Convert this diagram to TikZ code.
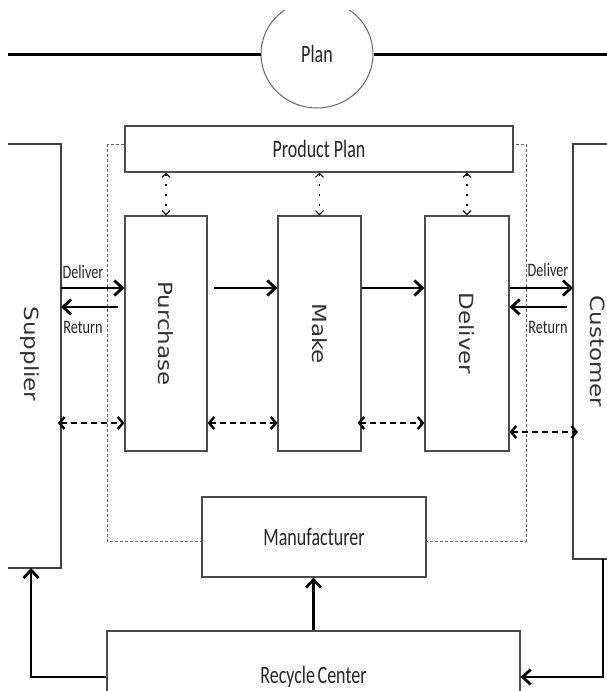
\documentclass[tikz,border=0pt]{standalone}
\usepackage{fontspec}
\setmainfont{Carlito}
\newfontfamily\vfont{DejaVu Sans}
\usetikzlibrary{arrows.meta,shapes.geometric}
\tikzset{
  box/.style={draw=black!70, line width=1.2pt, fill=white, inner sep=0pt},
  ghost/.style={inner sep=0pt, outer sep=0pt},
  lbl/.style={font=\fontsize{25}{29}\selectfont, text=black!85},
  vlbl/.style={font=\vfont\fontsize{23}{27}\selectfont, text=black!80, rotate=-90},
  smalllbl/.style={font=\fontsize{19}{22}\selectfont, text=black!85},
  side/.style={draw=black!75, line width=1.2pt},
  flow/.style={line width=2.8pt, -{Straight Barb[length=8pt,width=15pt]}},
  dflow/.style={line width=2.4pt, dash pattern=on 6pt off 4pt,
    {Straight Barb[length=5pt,width=12pt]}-{Straight Barb[length=5pt,width=12pt]}},
  pflow/.style={line width=1.1pt, dash pattern=on 2pt off 8pt,
    {Straight Barb[length=4pt,width=8pt]}-{Straight Barb[length=4pt,width=8pt]}},
  boundary/.style={draw=black!60, line width=0.8pt, dash pattern=on 3pt off 2pt},
}
\begin{document}
\begin{tikzpicture}[x=1pt,y=-1pt]
\clip (0,0) rectangle (607,691);
\fill[white] (0,0) rectangle (607,691);
% rows
\coordinate (rowA) at (0,288);
\coordinate (rowB) at (0,307);
\coordinate (rowC) at (0,423);
\coordinate (rowD) at (0,432);
% dashed boundary of manufacturer
\draw[boundary] (107,144) rectangle (526,541);
% plan
\begin{scope}
\clip (0,10) rectangle (607,691);
\node[draw=black!60, line width=1pt, ellipse, fill=white, minimum width=112pt, minimum height=108pt, inner sep=0pt] (plan) at (317,54) {};
\end{scope}
\node[lbl] at (plan) {\scalebox{0.72}[1]{Plan}};
\draw[line width=3pt] (8,54) -- (plan.west);
\draw[line width=3pt] (plan.east) -- (607,54);
% product plan
\node[box, minimum width=388pt, minimum height=46pt] (pp) at (319,149) {};
\node[lbl] at (pp) {\scalebox{0.72}[1]{Product Plan}};
% process boxes
\node[box, minimum width=82pt, minimum height=235pt] (pur) at (166,333.5) {};
\node[vlbl] at (pur) {\scalebox{1}[0.85]{Purchase}};
\node[box, minimum width=83pt, minimum height=235pt] (mak) at (319.5,333.5) {};
\node[vlbl] at (mak) {\scalebox{1}[0.85]{Make}};
\node[box, minimum width=84pt, minimum height=235pt] (del) at (467,333.5) {};
\node[vlbl] at (del) {\scalebox{1}[0.85]{Deliver}};
% supplier / customer
\node[ghost, minimum width=53pt, minimum height=424pt] (sup) at (34.5,356) {};
\draw[side] (sup.north west) -- (sup.north east) -- (sup.south east) -- (sup.south west);
\node[vlbl] at (30,354) {\scalebox{1}[0.85]{Supplier}};
\node[ghost, minimum width=50pt, minimum height=415pt] (cus) at (598,351.5) {};
\draw[side] (cus.north east) -- (cus.north west) -- (cus.south west) -- (cus.south east);
\node[vlbl] at (cus) {\scalebox{1}[0.85]{Customer}};
% manufacturer
\node[box, minimum width=224pt, minimum height=80pt] (man) at (314,537) {};
\node[lbl] at (man) {\scalebox{0.72}[1]{Manufacturer}};
% recycle center
\node[box, minimum width=413pt, minimum height=92pt] (rec) at (313.5,677) {};
\node[lbl] at (rec) {\scalebox{0.72}[1]{Recycle\kern-2pt\ Center}};
% product plan links
\draw[pflow] (pp.south -| pur) -- (pur.north);
\draw[pflow] (pp.south -| mak) -- (mak.north);
\draw[pflow] (pp.south -| del) -- (del.north);
% material flow
\draw[flow] (sup.east |- rowA) -- (pur.west |- rowA);
\draw[flow] ([xshift=-6pt]pur.west |- rowB) -- (sup.east |- rowB);
\draw[flow] ([xshift=6pt]pur.east |- rowA) -- (mak.west |- rowA);
\draw[flow] (mak.east |- rowA) -- (del.west |- rowA);
\draw[flow] (del.east |- rowA) -- (cus.west |- rowA);
\draw[flow] ([xshift=-6pt]cus.west |- rowB) -- (del.east |- rowB);
\node[smalllbl] (dl1) at (83,272) {\scalebox{0.75}[1]{Deliver}};
\node[smalllbl] (rt1) at (83,327) {\scalebox{0.75}[1]{Return}};
\node[smalllbl] (dl2) at (548,270) {\scalebox{0.75}[1]{Deliver}};
\node[smalllbl] (rt2) at (548,327) {\scalebox{0.75}[1]{Return}};
% information flow
\draw[dflow] ([xshift=-3pt]sup.east |- rowC) -- (pur.west |- rowC);
\draw[dflow] (pur.east |- rowC) -- (mak.west |- rowC);
\draw[dflow] ([xshift=-4pt]mak.east |- rowC) -- (del.west |- rowC);
\draw[dflow] (del.east |- rowD) -- ([xshift=5pt]cus.west |- rowD);
% recycle flows
\draw[flow] (rec.north) -- (rec.north |- man.south);
\draw[flow] (rec.west) -| ([xshift=-3.5pt]sup.south);
\draw[flow] ([xshift=5pt]cus.south) |- (rec.east);
\end{tikzpicture}
\end{document}
